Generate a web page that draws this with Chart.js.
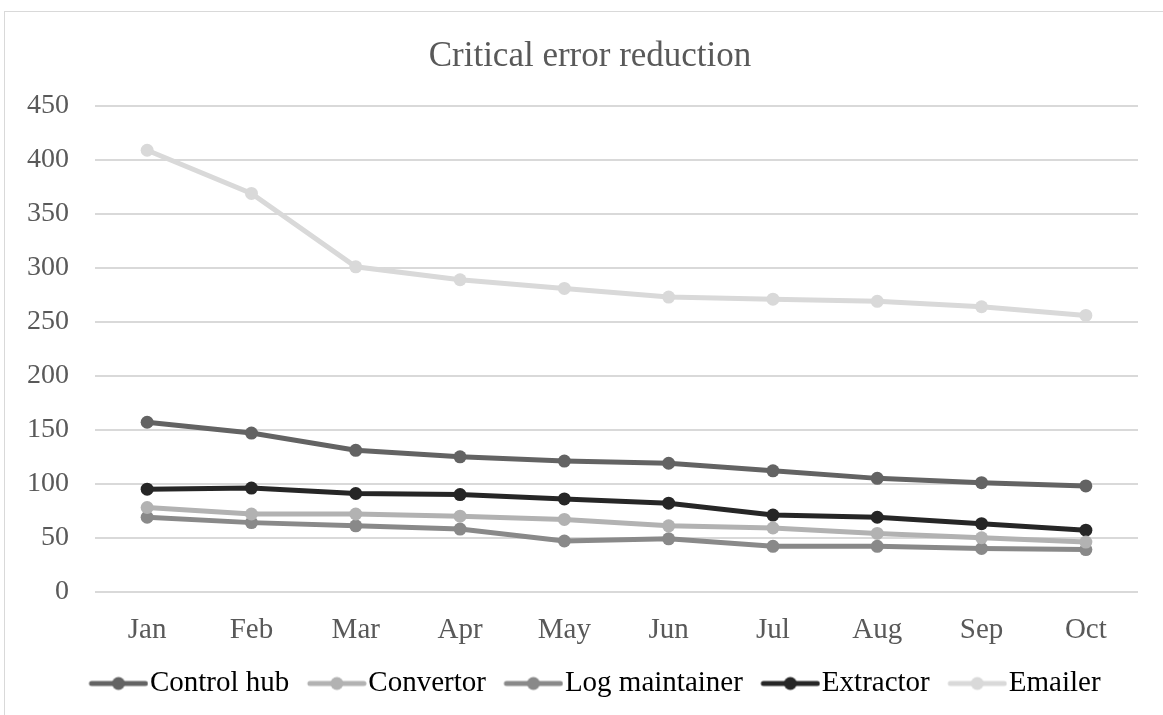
<!DOCTYPE html>
<html>
<head>
<meta charset="utf-8">
<script src="https://cdn.jsdelivr.net/npm/chart.js@4"></script>
<style>
  html, body { margin: 0; padding: 0; background: #fff; overflow: hidden; }
  #box {
    position: absolute; left: 4px; top: 11px;
    width: 1176px; height: 720px;
    border: 1px solid #d9d9d9; box-sizing: border-box;
  }
</style>
</head>
<body>
<div id="box"><canvas id="myChart"></canvas></div>
<script>
'use strict';

let months = ['Jan', 'Feb', 'Mar', 'Apr', 'May', 'Jun', 'Jul', 'Aug', 'Sep', 'Oct'];
let controlHub = [157, 147, 131, 125, 121, 119, 112, 105, 101, 98];
let convertor = [78, 72, 72, 70, 67, 61, 59, 54, 50, 46];
let logMaintainer = [69, 64, 61, 58, 47, 49, 42, 42, 40, 39];
let extractor = [95, 96, 91, 90, 86, 82, 71, 69, 63, 57];
let emailer = [409, 369, 301, 289, 281, 273, 271, 269, 264, 256];
let seriesNames = ['Control hub', 'Convertor', 'Log maintainer', 'Extractor', 'Emailer'];
let seriesColors = ['#636363', '#b2b2b2', '#898989', '#262626', '#d9d9d9'];

// legend symbol: short line with a dot in the middle
// (blank strip on the left so the items get some air between them)
function legendSymbol(color) {
  let c = document.createElement('canvas');
  c.width = 82;
  c.height = 16;
  let ctx = c.getContext('2d');
  ctx.strokeStyle = color;
  ctx.lineWidth = 5;
  ctx.lineCap = 'round';
  ctx.beginPath();
  ctx.moveTo(25, 8);
  ctx.lineTo(79, 8);
  ctx.stroke();
  ctx.fillStyle = color;
  ctx.beginPath();
  ctx.arc(52, 8, 6.5, 0, Math.PI * 2);
  ctx.fill();
  return c;
}

let allValues = [controlHub, convertor, logMaintainer, extractor, emailer];
let datasets = [];
for (let i = 0; i < seriesNames.length; i++) {
  datasets.push({
    label: seriesNames[i],
    data: allValues[i],
    borderColor: seriesColors[i],
    backgroundColor: seriesColors[i],
    borderWidth: 5,
    pointRadius: 6.5,
    pointHoverRadius: 6.5,
    pointBorderWidth: 0,
    pointStyle: 'circle',
    legendSymbol: legendSymbol(seriesColors[i]),
    tension: 0
  });
}

let serif = "'Liberation Serif', 'Times New Roman', serif";

const config = {
  type: 'line',
  data: { labels: months, datasets: datasets },
  options: {
    responsive: true,
    maintainAspectRatio: false,
    animation: false,
    layout: { padding: { left: -4, right: 0, top: 0, bottom: 22 } },
    plugins: {
      title: {
        display: true,
        text: 'Critical error reduction',
        color: '#595959',
        font: { family: serif, size: 35, weight: 'normal' },
        padding: { top: 24, bottom: 28 }
      },
      legend: {
        position: 'bottom',
        labels: {
          color: '#595959',
          font: { family: serif, size: 29 },
          usePointStyle: true,
          pointStyleWidth: 56,
          padding: 8.5,
          generateLabels: function (chart) {
            return chart.data.datasets.map(function (d, i) {
              return {
                text: d.label,
                fillStyle: d.borderColor,
                strokeStyle: d.borderColor,
                lineWidth: 0,
                pointStyle: d.legendSymbol,
                datasetIndex: i,
                hidden: false
              };
            });
          }
        }
      },
      tooltip: { enabled: false }
    },
    scales: {
      x: {
        offset: true,
        grid: { display: false },
        border: { display: false },
        ticks: { color: '#595959', font: { family: serif, size: 29 }, padding: 13 }
      },
      y: {
        min: 0,
        max: 450,
        ticks: { stepSize: 50, color: '#595959', font: { family: serif, size: 28 }, padding: 26 },
        grid: { color: '#d9d9d9', lineWidth: 2, drawTicks: false },
        border: { display: false }
      },
      // empty right-hand axis, only keeps the plot clear of the right edge
      yRight: {
        position: 'right',
        grid: { display: false },
        border: { display: false },
        ticks: { display: false },
        afterFit: function (scale) {
          scale.width = 41;
        }
      }
    }
  }
};

let myChart = new Chart(document.getElementById('myChart'), config);
</script>
</body>
</html>
